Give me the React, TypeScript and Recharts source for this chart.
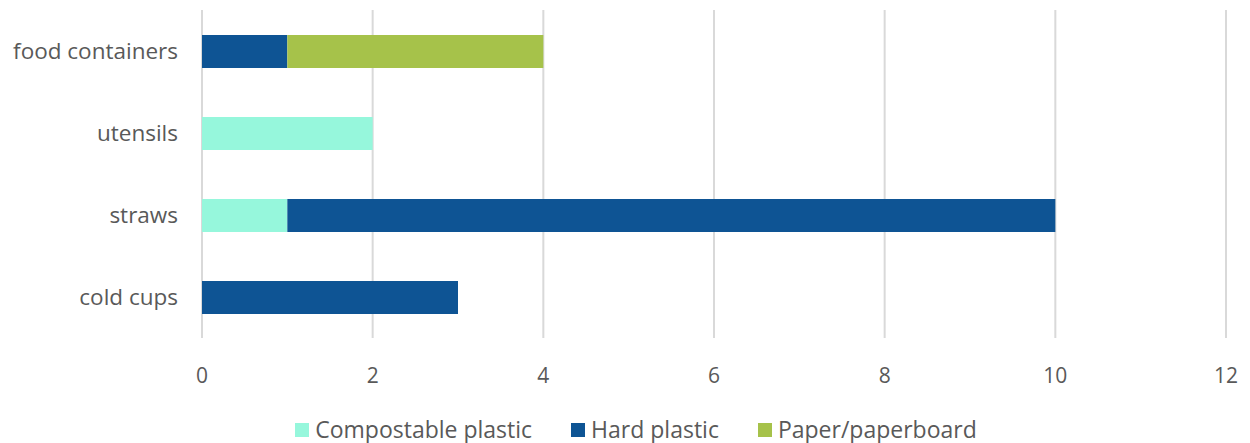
import React from 'react';
import { BarChart, Bar, XAxis, YAxis, CartesianGrid, Legend } from 'recharts';

// categories, top to bottom
const categories = ['food containers', 'utensils', 'straws', 'cold cups'];
const compostable = [0, 2, 1, 0];
const hardPlastic = [1, 0, 9, 3];
const paper = [3, 0, 0, 0];
const xTicks = [0, 2, 4, 6, 8, 10, 12];

const data = categories.map((name, i) => ({
  name,
  compostable: compostable[i],
  hard: hardPlastic[i],
  paper: paper[i],
}));

const textColor = '#595959';
const font = '"Open Sans", "Noto Sans", sans-serif';

const renderLegend = (props: any) => {
  const { payload } = props;
  return (
    <div style={{ display: 'flex', justifyContent: 'center', paddingLeft: 22, height: 25, alignItems: 'center' }}>
      {payload.map((entry: any, i: number) => (
        <div key={i} style={{ display: 'flex', alignItems: 'center', marginLeft: i === 0 ? 0 : 39 }}>
          <span style={{ width: 14, height: 14, background: entry.color, display: 'inline-block', marginRight: 6 }} />
          <span style={{ color: textColor, fontSize: 23, fontFamily: font, lineHeight: '25px' }}>{entry.value}</span>
        </div>
      ))}
    </div>
  );
};

const App: React.FC = () => {
  return (
    <div style={{ position: 'absolute', left: 0, top: 0, width: 1250, height: 443, background: '#fff' }}>
      <BarChart
        width={1250}
        height={443}
        data={data}
        layout="vertical"
        margin={{ top: 10, right: 24, bottom: 0, left: 0 }}
        barSize={33}
      >
        <CartesianGrid horizontal={false} stroke="#d9d9d9" strokeWidth={2} />
        <XAxis
          type="number"
          domain={[0, 12]}
          ticks={xTicks}
          axisLine={false}
          tickLine={false}
          tickMargin={24}
          height={67}
          tick={{ fill: textColor, fontSize: 21, fontFamily: font }}
        />
        <YAxis
          type="category"
          dataKey="name"
          width={202}
          axisLine={false}
          tickLine={false}
          tickMargin={18}
          tick={{ fill: textColor, fontSize: 22.5, fontFamily: font }}
        />
        <Legend
          verticalAlign="bottom"
          height={38}
          content={renderLegend}
          wrapperStyle={{ left: 0, width: 1250, top: 417, bottom: 'auto' }}
        />
        <Bar dataKey="compostable" name="Compostable plastic" stackId="a" fill="#96F7DC" isAnimationActive={false} />
        <Bar dataKey="hard" name="Hard plastic" stackId="a" fill="#0E5494" isAnimationActive={false} />
        <Bar dataKey="paper" name="Paper/paperboard" stackId="a" fill="#A6C24A" isAnimationActive={false} />
      </BarChart>
    </div>
  );
};

export default App;
